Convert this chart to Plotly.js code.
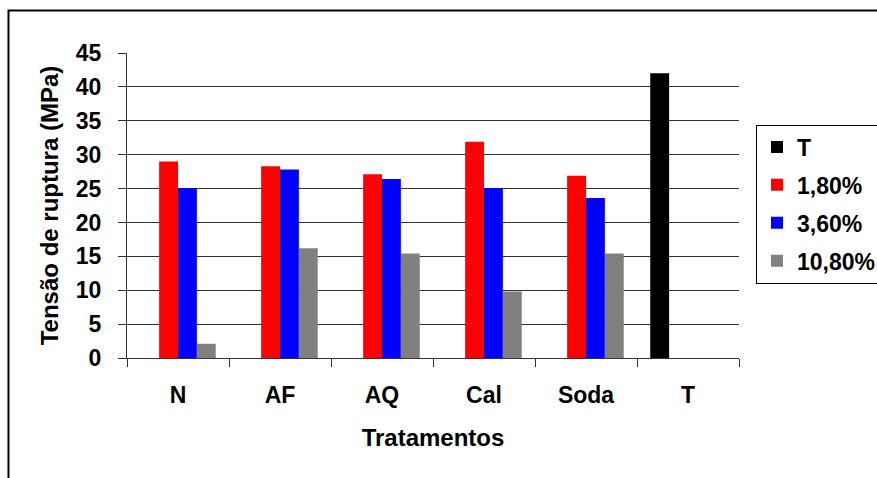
<!DOCTYPE html>
<html>
<head>
<meta charset="utf-8">
<script src="https://cdn.plot.ly/plotly-3.0.1.min.js"></script>
<style>html,body{margin:0;padding:0;background:#fff;}#chart{width:877px;height:478px;}</style>
</head>
<body>
<div id="chart"></div>
<script>
const categories = ["N", "AF", "AQ", "Cal", "Soda", "T"];
const seriesNames = ["T", "1,80%", "3,60%", "10,80%"];
const valuesT = [null, null, null, null, null, 42.0];
const values180 = [29.0, 28.3, 27.1, 31.9, 26.9, null];
const values360 = [25.1, 27.8, 26.4, 25.1, 23.6, null];
const values1080 = [2.1, 16.2, 15.4, 9.8, 15.4, null];
const yTicks = [0, 5, 10, 15, 20, 25, 30, 35, 40, 45];
const colors = ["#000000", "#FF0000", "#0000FF", "#808080"];

const seriesValues = [valuesT, values180, values360, values1080];
const FONT = "Liberation Sans, Arial, sans-serif";

const traces = seriesNames.map((name, i) => ({
  type: "bar",
  name: name,
  x: categories,
  y: seriesValues[i],
  marker: { color: colors[i] },
  legendgroup: "g" + i,
  hoverinfo: "none"
}));

const W = 877, H = 478;
const L = 127, R = W - 739, T = 53, B = 120;
const pw = W - L - R, ph = H - T - B;
const px = v => (v - L) / pw;
const py = v => (H - B - v) / ph;

const layout = {
  width: W,
  height: H,
  margin: { l: L, r: R, t: T, b: B, pad: 0 },
  paper_bgcolor: "#ffffff",
  plot_bgcolor: "#ffffff",
  font: { family: FONT, size: 23, color: "#000000", weight: "bold" },
  barmode: "group",
  bargap: 0.26,
  bargroupgap: 0,
  showlegend: true,
  legend: {
    xref: "container", yref: "container",
    x: 756 / W, xanchor: "left",
    y: 1 - 124.5 / H, yanchor: "top",
    bgcolor: "#ffffff",
    bordercolor: "#000000",
    borderwidth: 1,
    font: { family: FONT, size: 23, color: "#000000", weight: "bold" },
    traceorder: "grouped",
    tracegroupgap: 5,
    itemwidth: 30
  },
  xaxis: {
    type: "category",
    showline: true,
    linecolor: "#333333",
    linewidth: 1,
    ticks: "outside",
    tickson: "boundaries",
    ticklen: 8,
    tickcolor: "#333333",
    ticklabelstandoff: 16,
    showgrid: false,
    zeroline: false,
    tickfont: { family: FONT, size: 23, weight: "bold" },
    title: { text: "Tratamentos", font: { family: FONT, size: 24, weight: "bold" }, standoff: 22 },
    automargin: false,
    fixedrange: true
  },
  yaxis: {
    range: [0, 45],
    tickvals: yTicks,
    ticktext: yTicks.map(String),
    showline: true,
    linecolor: "#333333",
    linewidth: 1,
    ticks: "outside",
    ticklen: 8,
    tickcolor: "#333333",
    ticklabelstandoff: 12,
    showgrid: true,
    gridcolor: "#333333",
    gridwidth: 1,
    zeroline: false,
    tickfont: { family: FONT, size: 23, weight: "bold" },
    title: { text: "Tensão de ruptura (MPa)", font: { family: FONT, size: 24, weight: "bold" }, standoff: 10 },
    automargin: false,
    fixedrange: true
  },
  shapes: [{
    type: "rect",
    xref: "paper", yref: "paper",
    x0: px(8.5), x1: px(900),
    y0: py(520), y1: py(10.5),
    line: { color: "#000000", width: 2 },
    fillcolor: "rgba(0,0,0,0)",
    layer: "above"
  }]
};

Plotly.newPlot("chart", traces, layout, { displayModeBar: false, staticPlot: true });
</script>
</body>
</html>
